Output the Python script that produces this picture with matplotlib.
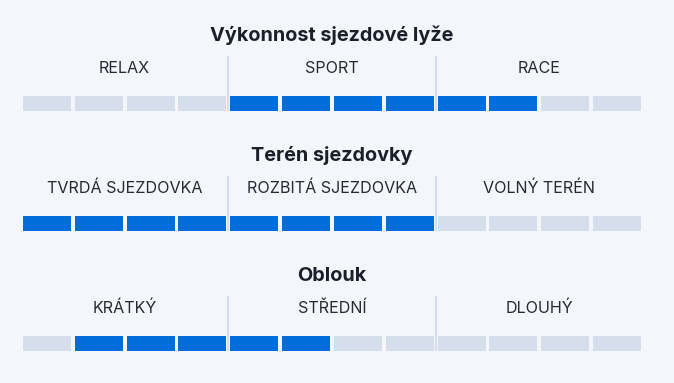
import matplotlib.pyplot as plt

# --- data ---
titles = ['Výkonnost sjezdové lyže', 'Terén sjezdovky', 'Oblouk']
labels = [
    ['RELAX', 'SPORT', 'RACE'],
    ['TVRDÁ SJEZDOVKA', 'ROZBITÁ SJEZDOVKA', 'VOLNÝ TERÉN'],
    ['KRÁTKÝ', 'STŘEDNÍ', 'DLOUHÝ'],
]
# active segment ranges (1-based, inclusive) out of 12
active_from = [5, 1, 2]
active_to = [10, 8, 6]
n_segments = 12

BG = '#f3f7fc'
OFF = '#d5deea'
ON = '#006ddb'
TXT = '#1b1f29'

plt.rcParams['font.family'] = ['Inter', 'DejaVu Sans']

fig = plt.figure(figsize=(6.74, 3.83), dpi=100, facecolor=BG)
ax = fig.add_axes([0, 0, 1, 1])
ax.set_facecolor(BG)
ax.set_xlim(0, 674)
ax.set_ylim(383, 0)
ax.axis('off')

x0, pitch, seg_w, bar_h = 23, 51.83, 48, 15
section_top = [0, 120, 240]

for k, title in enumerate(titles):
    top = section_top[k]
    ax.text(332, top + 41, title, ha='center', va='baseline',
            fontsize=14.3, fontweight='bold', color=TXT)
    for j, lab in enumerate(labels[k]):
        cx = x0 + (j * 4 + 2) * pitch - 2
        ax.text(cx, top + 73, lab, ha='center', va='baseline',
                fontsize=11.6, color='#262a33')
    xs = [x0 + i * pitch for i in range(n_segments)]
    cols = [ON if active_from[k] <= i + 1 <= active_to[k] else OFF
            for i in range(n_segments)]
    ax.bar(xs, [bar_h] * n_segments, width=seg_w, bottom=top + 96,
           align='edge', color=cols, linewidth=0)
    for d in (1, 2):
        xd = x0 + d * 4 * pitch - 2
        ax.plot([xd, xd], [top + 56, top + 111], color=OFF, lw=1.5,
                solid_capstyle='butt', zorder=0)

fig.savefig('out.png', dpi=100, facecolor=BG)
